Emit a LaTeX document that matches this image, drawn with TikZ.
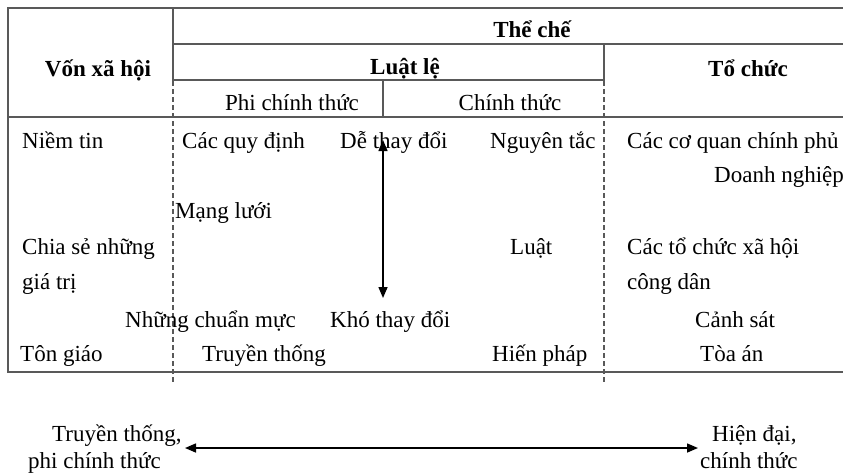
\documentclass[tikz,border=0pt]{standalone}
\usepackage{fontspec}
\setmainfont{Liberation Serif}
\usetikzlibrary{arrows.meta}
\tikzset{
  headtext/.style={font=\fontsize{23}{26}\selectfont\bfseries,inner sep=0pt,anchor=base},
  celltext/.style={font=\fontsize{23}{26}\selectfont,inner sep=0pt,anchor=base west},
  gridline/.style={draw=black!65,line width=1.4pt},
  dashline/.style={draw=black!65,line width=1.6pt,dash pattern=on 5pt off 3pt},
  diagramarrow/.style={{Triangle[length=11pt,width=9pt]}-{Triangle[length=11pt,width=9pt]},line width=1.5pt}
}
\begin{document}
\begin{tikzpicture}[x=1pt,y=-1pt]
  \useasboundingbox (0,0) rectangle (843,475);
  % table frame
  \draw[gridline] (843,8) -- (8,8) -- (8,372) -- (843,372);
  \draw[gridline] (173,8) -- (173,81);
  \draw[gridline] (173,44) -- (843,44);
  \draw[gridline] (173,80) -- (604,80);
  \draw[gridline] (604,44) -- (604,81);
  \draw[gridline] (383,80) -- (383,117);
  \draw[gridline] (8,117) -- (843,117);
  \draw[dashline] (173,81) -- (173,383);
  \draw[dashline] (604,81) -- (604,383);
  % headers
  \node[headtext] (theche) at (532,37) {Thể chế};
  \node[headtext] (vonxahoi) at (98,76) {Vốn xã hội};
  \node[headtext] (luatle) at (405,74) {Luật lệ};
  \node[headtext] (tochuc) at (748,76) {Tổ chức};
  \node[celltext,anchor=base] (phict) at (292,110) {Phi chính thức};
  \node[celltext,anchor=base] (chinhthuc) at (510,110) {Chính thức};
  % body
  \node[celltext] (niemtin) at (22,148) {Niềm tin};
  \node[celltext] (cacquydinh) at (182,148) {Các quy định};
  \node[celltext] (dethaydoi) at (340,148) {Dễ thay đổi};
  \node[celltext] (nguyentac) at (490,148) {Nguyên tắc};
  \node[celltext] (coquan) at (627,148) {Các cơ quan chính phủ};
  \node[celltext] (doanhnghiep) at (714,182) {Doanh nghiệp};
  \node[celltext] (mangluoi) at (175,218) {Mạng lưới};
  \node[celltext] (chiase) at (22,254) {Chia sẻ những};
  \node[celltext] (luat) at (510,254) {Luật};
  \node[celltext] (tochucxh) at (627,254) {Các tổ chức xã hội};
  \node[celltext] (giatri) at (22,289) {giá trị};
  \node[celltext] (congdan) at (627,289) {công dân};
  \node[celltext] (chuanmuc) at (125,327) {Những chuẩn mực};
  \node[celltext] (khothaydoi) at (330,327) {Khó thay đổi};
  \node[celltext] (canhsat) at (695,327) {Cảnh sát};
  \node[celltext] (tongiao) at (20,361) {Tôn giáo};
  \node[celltext] (truyenthong) at (202,361) {Truyền thống};
  \node[celltext] (hienphap) at (492,361) {Hiến pháp};
  \node[celltext] (toaan) at (700,361) {Tòa án};
  \coordinate (easytip) at (383,140);
  \coordinate (hardtip) at (383,298);
  \draw[diagramarrow] (easytip) -- (hardtip);
  % scale below
  \node[celltext] (trad1) at (52,441) {Truyền thống,};
  \node[celltext] (trad2) at (28,468) {phi chính thức};
  \node[celltext] (modern1) at (712,441) {Hiện đại,};
  \node[celltext] (modern2) at (700,468) {chính thức};
  \coordinate (leftend) at (185,448);
  \coordinate (rightend) at (698,448);
  \draw[diagramarrow] (leftend) -- (rightend);
\end{tikzpicture}
\end{document}
